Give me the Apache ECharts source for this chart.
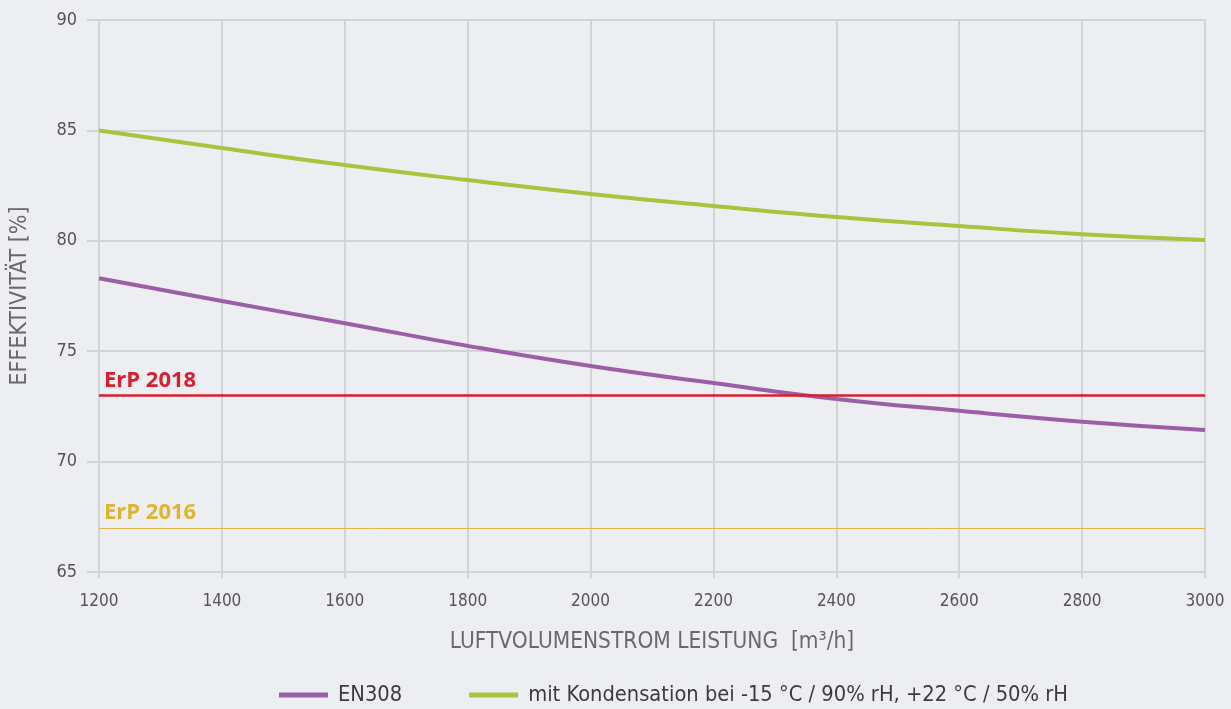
<!DOCTYPE html>
<html lang="de">
<head>
    <meta charset="UTF-8">
    <title>Effektivität</title>
    <script src="https://cdn.jsdelivr.net/npm/echarts@6/dist/echarts.min.js"></script>
    <style>
        html, body { margin: 0; padding: 0; background: #edeef2; }
        #chart { width: 1231px; height: 709px; }
    </style>
</head>
<body>
<div id="chart"></div>
<script>
    // Daten
    var luftmenge = [1200, 1400, 1600, 1800, 2000, 2200, 2400, 2600, 2800, 3000];
    var en308 = [78.3, 77.27, 76.27, 75.24, 74.33, 73.56, 72.84, 72.3, 71.8, 71.43];
    var kondensation = [85.0, 84.2, 83.43, 82.75, 82.12, 81.58, 81.08, 80.67, 80.3, 80.04];
    var erp2018 = 73;
    var erp2016 = 67;
    var serienNamen = ['EN308', 'mit Kondensation bei -15 °C / 90% rH, +22 °C / 50% rH'];

    var font = '"DejaVu Sans Condensed", "Noto Sans", sans-serif';

    function paare(werte) {
        var out = [];
        for (var i = 0; i < luftmenge.length; i++) {
            out.push([luftmenge[i], werte[i]]);
        }
        return out;
    }

    var myChart = echarts.init(document.getElementById('chart'));

    var option = {
        backgroundColor: '#edeef2',
        animation: false,
        textStyle: { fontFamily: font },
        grid: { left: 99, right: 26, top: 20, bottom: 137, outerBoundsMode: 'none', containLabel: false },
        legend: {
            top: 679,
            left: 274,
            itemGap: 67,
            itemWidth: 49,
            itemHeight: 5,
            icon: 'rect',
            textStyle: { fontSize: 21.7, color: '#3c3c3c', fontFamily: font, padding: [0, 0, 0, 5] },
            data: serienNamen
        },
        xAxis: {
            type: 'value',
            min: 1200,
            max: 3000,
            interval: 200,
            name: 'LUFTVOLUMENSTROM LEISTUNG  [m³/h]',
            nameLocation: 'middle',
            nameGap: 59,
            nameTextStyle: { fontSize: 22.5, color: '#6a6a6a', fontFamily: font },
            axisLine: { show: false },
            axisTick: { show: true, length: 6, lineStyle: { color: '#d3d4d8', width: 2 } },
            axisLabel: {
                fontSize: 17, color: '#555', margin: 21,
                formatter: function (v) { return String(v); }
            },
            splitLine: { show: true, lineStyle: { color: '#d3d4d8', width: 2 } }
        },
        yAxis: {
            type: 'value',
            min: 65,
            max: 90,
            interval: 5,
            name: 'EFFEKTIVITÄT [%]',
            nameLocation: 'middle',
            nameGap: 67,
            nameTextStyle: { fontSize: 23, color: '#6a6a6a', fontFamily: font },
            axisLine: { show: false },
            axisTick: { show: true, length: 12, lineStyle: { color: '#d3d4d8', width: 2 } },
            axisLabel: { fontSize: 18, color: '#555', margin: 22 },
            splitLine: { show: true, lineStyle: { color: '#d3d4d8', width: 2 } }
        },
        series: [
            {
                name: serienNamen[0],
                type: 'line',
                smooth: true,
                showSymbol: false,
                color: '#9b5fa8',
                lineStyle: { width: 4, color: '#9b5fa8' },
                data: paare(en308),
                z: 3
            },
            {
                name: serienNamen[1],
                type: 'line',
                smooth: true,
                showSymbol: false,
                color: '#a6c43c',
                lineStyle: { width: 4, color: '#a6c43c' },
                data: paare(kondensation),
                z: 3,
                markLine: {
                    silent: true,
                    symbol: 'none',
                    data: [
                        {
                            yAxis: erp2018,
                            lineStyle: { color: '#d4202f', width: 2.5, type: 'solid' },
                            label: {
                                formatter: 'ErP 2018', position: 'insideStartTop', distance: [5, 4],
                                color: '#d4202f', fontSize: 22, fontWeight: 'bold', fontFamily: '"Open Sans", sans-serif'
                            }
                        },
                        {
                            yAxis: erp2016,
                            lineStyle: { color: '#dcb84a', width: 1, type: 'solid' },
                            label: {
                                formatter: 'ErP 2016', position: 'insideStartTop', distance: [5, 4],
                                color: '#e0b42c', fontSize: 22, fontWeight: 'bold', fontFamily: '"Open Sans", sans-serif'
                            }
                        }
                    ]
                }
            }
        ]
    };

    myChart.setOption(option);
</script>
</body>
</html>
